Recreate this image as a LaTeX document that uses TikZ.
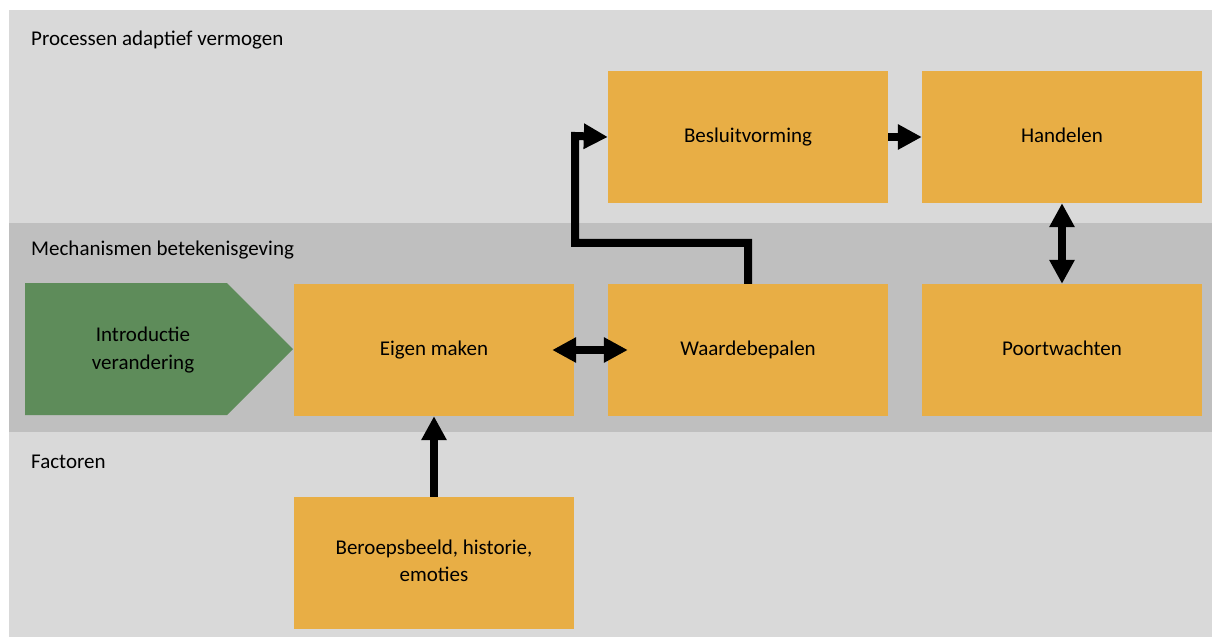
\documentclass[tikz,border=0pt]{standalone}
\usepackage{fontspec}
\setmainfont{Carlito}
\usetikzlibrary{arrows.meta}
\definecolor{bandlight}{HTML}{D9D9D9}
\definecolor{banddark}{HTML}{BFBFBF}
\definecolor{boxorange}{HTML}{E8AE45}
\definecolor{boxgreen}{HTML}{5E8C5A}
\begin{document}
\begin{tikzpicture}[x=1pt,y=-1pt,
  box/.style={rectangle,fill=boxorange,minimum width=280pt,minimum height=132pt,inner sep=0pt,align=center,font=\fontsize{21}{27}\selectfont},
  bandlabel/.style={anchor=west,inner sep=0pt,font=\fontsize{21}{25}\selectfont},
  conn/.style={line width=8pt,-{Triangle[length=24pt,width=24pt]},line join=miter},
  dconn/.style={line width=8pt,{Triangle[length=24pt,width=24pt]}-{Triangle[length=24pt,width=24pt]}}]
\useasboundingbox[fill=white] (0,0) rectangle (1212,637);
\fill[bandlight] (9,10) rectangle (1212,223);
\fill[banddark] (9,223) rectangle (1212,432);
\fill[bandlight] (9,432) rectangle (1212,637);
\node[bandlabel] (l1) at (31,40) {Processen adaptief vermogen\strut};
\node[bandlabel] (l2) at (31,250) {Mechanismen betekenisgeving\strut};
\node[bandlabel] (l3) at (31,463) {Factoren\strut};
\fill[boxgreen] (25,283) -- (227,283) -- (293,349) -- (227,415) -- (25,415) -- cycle;
\node[align=center,inner sep=0pt,font=\fontsize{21}{28}\selectfont] (intro) at (143,350) {Introductie\strut\\verandering\strut};
\node[box] (besluit) at (748,137) {Besluitvorming\strut};
\node[box] (handelen) at (1062,137) {Handelen\strut};
\node[box] (eigen) at (434,350) {Eigen maken\strut};
\node[box] (waarde) at (748,350) {Waardebepalen\strut};
\node[box] (poort) at (1062,350) {Poortwachten\strut};
\node[box] (beroep) at (434,563) {Beroepsbeeld, historie,\strut\\emoties\strut};
\draw[conn] (waarde.north) -- ++(0,-41) -| (575,136) -- (besluit.west);
\draw[conn] (besluit.east) -- (handelen.west);
\draw[dconn] (handelen.south) -- (poort.north);
\draw[dconn] ([xshift=-22pt]eigen.east) -- ([xshift=20pt]waarde.west);
\draw[conn] (beroep.north) -- (eigen.south);
\end{tikzpicture}
\end{document}
